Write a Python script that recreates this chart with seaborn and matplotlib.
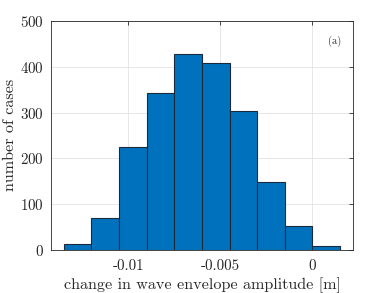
import numpy as np
import pandas as pd
import matplotlib
matplotlib.use("Agg")
import matplotlib.pyplot as plt
import seaborn as sns

# bin edges of the histogram (change in wave envelope amplitude, m)
bin_edges = [-0.0135, -0.012, -0.0105, -0.009, -0.0075, -0.006,
             -0.0045, -0.003, -0.0015, 0.0, 0.0015]
# number of cases per bin
counts = [13, 69, 225, 343, 428, 408, 303, 148, 52, 7]

x_ticks = [-0.01, -0.005, 0]
x_tick_labels = ["-0.01", "-0.005", "0"]
y_ticks = [0, 100, 200, 300, 400, 500]

centers = [(a + b) / 2 for a, b in zip(bin_edges[:-1], bin_edges[1:])]
df = pd.DataFrame({"change": centers, "n": counts})

sns.set_style("white")
plt.rcParams["font.family"] = ["cmr10", "DejaVu Serif"]
plt.rcParams["mathtext.fontset"] = "cm"
plt.rcParams["axes.unicode_minus"] = False
plt.rcParams["axes.formatter.use_mathtext"] = True

fig = plt.figure(figsize=(3.9, 2.93), dpi=100)
ax = fig.add_axes([0.131, 0.148, 0.775, 0.78])

sns.histplot(data=df, x="change", weights="n", bins=bin_edges, ax=ax,
             color="#0072BD", alpha=1, edgecolor="#1a2a3a", linewidth=0.8,
             zorder=3)

ax.set_xlim(-0.01419, 0.00222)
ax.set_ylim(0, 500)
ax.set_xticks(x_ticks)
ax.set_xticklabels(x_tick_labels)
ax.set_yticks(y_ticks)
ax.grid(True, color="#e3e3e3", linewidth=0.6, zorder=0)
ax.set_axisbelow(True)
ax.tick_params(direction="in", length=3, width=0.6, top=True, right=True,
               labelsize=10.8, colors="#262626")
ax.tick_params(axis="x", pad=7)
ax.tick_params(axis="y", pad=5)
for s in ax.spines.values():
    s.set_visible(True)
    s.set_color("#262626")
    s.set_linewidth(0.6)

ax.set_xlabel("change in wave envelope amplitude [m]", fontsize=11.6,
              color="#262626", labelpad=3)
ax.set_ylabel("number of cases", fontsize=11.6, color="#262626", labelpad=2)
ax.text(0.96, 0.91, "(a)", transform=ax.transAxes, ha="right", va="center",
        fontsize=7.5, color="#262626")

fig.savefig("out.png", dpi=100)
